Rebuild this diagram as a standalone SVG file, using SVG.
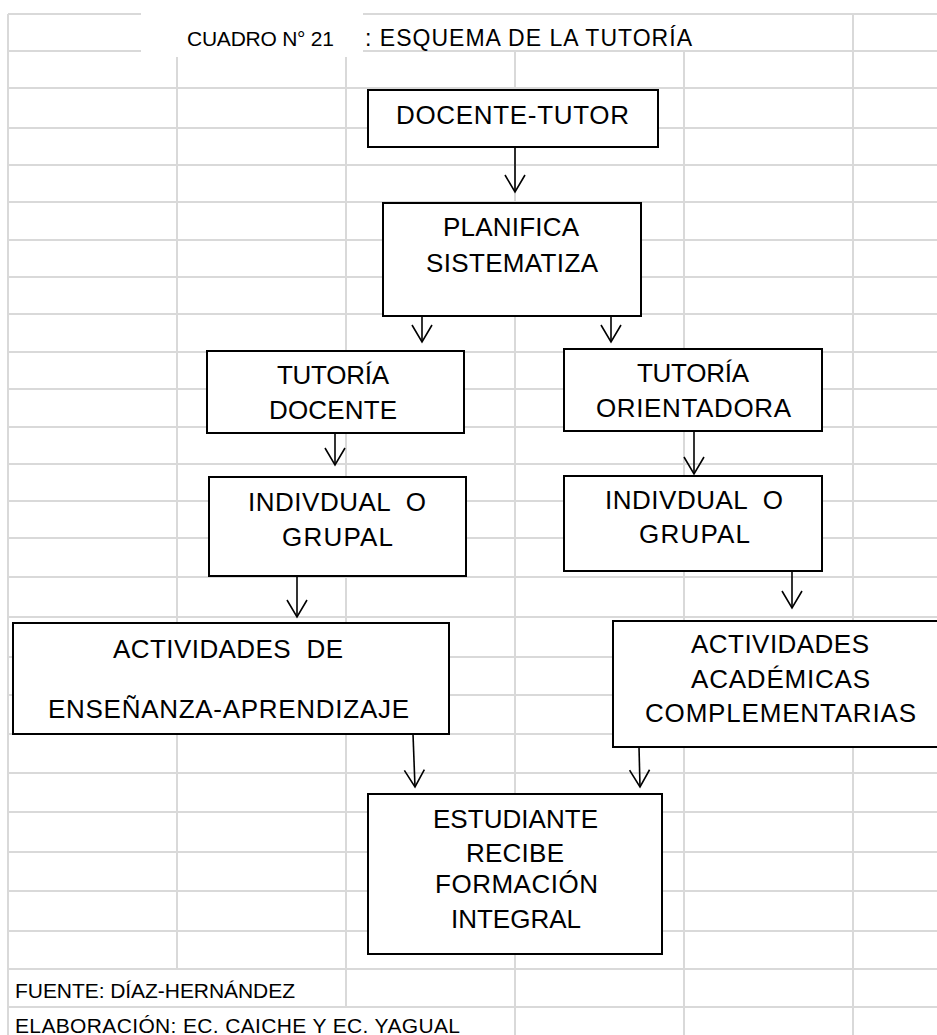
<svg xmlns="http://www.w3.org/2000/svg" width="937" height="1035" viewBox="0 0 937 1035">
<style>
.grid{stroke:#d9d9d9;stroke-width:2;fill:none}
.box{fill:#fff;stroke:#000;stroke-width:2}
.t{font-family:"Liberation Sans",Arial,sans-serif;font-size:26px;fill:#000}
.s{font-family:"Liberation Sans",Arial,sans-serif;font-size:21px;fill:#000}
.h{font-family:"Liberation Sans",Arial,sans-serif;font-size:23px;fill:#000}
.arr{stroke:#000;stroke-width:1.6;fill:none;marker-end:url(#v)}
</style>
<defs>
<marker id="v" viewBox="-19 -11 21 22" markerWidth="21" markerHeight="22" refX="0" refY="0" orient="auto" markerUnits="userSpaceOnUse">
<path d="M-17,-10 L0,0 L-17,10" fill="none" stroke="#000" stroke-width="1.6"/>
</marker>
</defs>
<rect x="0" y="0" width="937" height="1035" fill="#fff"/>
<g id="grid" class="grid">
<path d="M8,14H937M8,51H937M8,88H937M8,128H937M8,165H937M8,202H937M8,240H937M8,277H937M8,314H937M8,352H937M8,389H937M8,427H937M8,464H937M8,501H937M8,538H937M8,577H937M8,617H937M8,657H937M8,695H937M8,734H937M8,773H937M8,812H937M8,852H937M8,891H937M8,931H937M8,969H937M8,1007H937"/>
<path d="M8,14V1035M177,51V969M346,51V1007M515,51V1035M684,51V1035M853,14V1035"/>
</g>
<g id="title">
<rect x="141" y="8" width="222" height="49" fill="#fff"/>
<text class="s" x="187" y="46" textLength="147" lengthAdjust="spacing">CUADRO N° 21</text>
<text class="h" x="365" y="46" textLength="327" lengthAdjust="spacing">: ESQUEMA DE LA TUTORÍA</text>
</g>
<g id="n-docente-tutor">
<rect class="box" x="368" y="90" width="290" height="57"/>
<text class="t" x="396" y="124" textLength="233" lengthAdjust="spacing">DOCENTE-TUTOR</text>
</g>
<g id="n-planifica">
<rect class="box" x="383" y="203" width="258" height="113"/>
<text class="t" x="443" y="236" textLength="136" lengthAdjust="spacing">PLANIFICA</text>
<text class="t" x="426" y="272" textLength="172" lengthAdjust="spacing">SISTEMATIZA</text>
</g>
<g id="n-tutoria-docente">
<rect class="box" x="207" y="351" width="257" height="82"/>
<text class="t" x="277" y="384" textLength="112" lengthAdjust="spacing">TUTORÍA</text>
<text class="t" x="269" y="419" textLength="128" lengthAdjust="spacing">DOCENTE</text>
</g>
<g id="n-tutoria-orientadora">
<rect class="box" x="564" y="349" width="258" height="82"/>
<text class="t" x="637" y="382" textLength="112" lengthAdjust="spacing">TUTORÍA</text>
<text class="t" x="596" y="417" textLength="195" lengthAdjust="spacing">ORIENTADORA</text>
</g>
<g id="n-individual-left">
<rect class="box" x="209" y="477" width="257" height="99"/>
<text class="t" x="248" y="511" textLength="178" lengthAdjust="spacing" xml:space="preserve">INDIVDUAL  O</text>
<text class="t" x="282" y="546" textLength="111" lengthAdjust="spacing">GRUPAL</text>
</g>
<g id="n-individual-right">
<rect class="box" x="564" y="476" width="258" height="95"/>
<text class="t" x="605" y="509" textLength="178" lengthAdjust="spacing" xml:space="preserve">INDIVDUAL  O</text>
<text class="t" x="639" y="543" textLength="111" lengthAdjust="spacing">GRUPAL</text>
</g>
<g id="n-actividades-ensenanza">
<rect class="box" x="13" y="623" width="436" height="111"/>
<text class="t" x="113" y="658" textLength="230" lengthAdjust="spacing" xml:space="preserve">ACTIVIDADES  DE</text>
<text class="t" x="48" y="718" textLength="361" lengthAdjust="spacing">ENSEÑANZA-APRENDIZAJE</text>
</g>
<g id="n-actividades-academicas">
<rect class="box" x="613" y="621" width="330" height="126"/>
<text class="t" x="691" y="653" textLength="178" lengthAdjust="spacing">ACTIVIDADES</text>
<text class="t" x="691" y="688" textLength="179" lengthAdjust="spacing">ACADÉMICAS</text>
<text class="t" x="645" y="722" textLength="271" lengthAdjust="spacing">COMPLEMENTARIAS</text>
</g>
<g id="n-estudiante">
<rect class="box" x="368" y="794" width="294" height="160"/>
<text class="t" x="433" y="828" textLength="165" lengthAdjust="spacing">ESTUDIANTE</text>
<text class="t" x="466" y="862" textLength="98" lengthAdjust="spacing">RECIBE</text>
<text class="t" x="435" y="893" textLength="163" lengthAdjust="spacing">FORMACIÓN</text>
<text class="t" x="451" y="928" textLength="130" lengthAdjust="spacing">INTEGRAL</text>
</g>
<g id="footer">
<text class="s" x="15" y="998" textLength="280" lengthAdjust="spacing">FUENTE: DÍAZ-HERNÁNDEZ</text>
<text class="s" x="15" y="1033" textLength="445" lengthAdjust="spacing">ELABORACIÓN: EC. CAICHE Y EC. YAGUAL</text>
</g>
<g id="connectors">
<line class="arr" x1="515" y1="147" x2="515" y2="192"/>
<line class="arr" x1="422" y1="316" x2="422" y2="342"/>
<line class="arr" x1="611" y1="316" x2="611" y2="342"/>
<line class="arr" x1="335" y1="433" x2="335" y2="465"/>
<line class="arr" x1="694" y1="431" x2="694" y2="474"/>
<line class="arr" x1="297" y1="576" x2="297" y2="617"/>
<line class="arr" x1="792" y1="571" x2="792" y2="608"/>
<line class="arr" x1="413" y1="734" x2="415" y2="787"/>
<line class="arr" x1="639" y1="747" x2="640" y2="787"/>
</g>
</svg>
